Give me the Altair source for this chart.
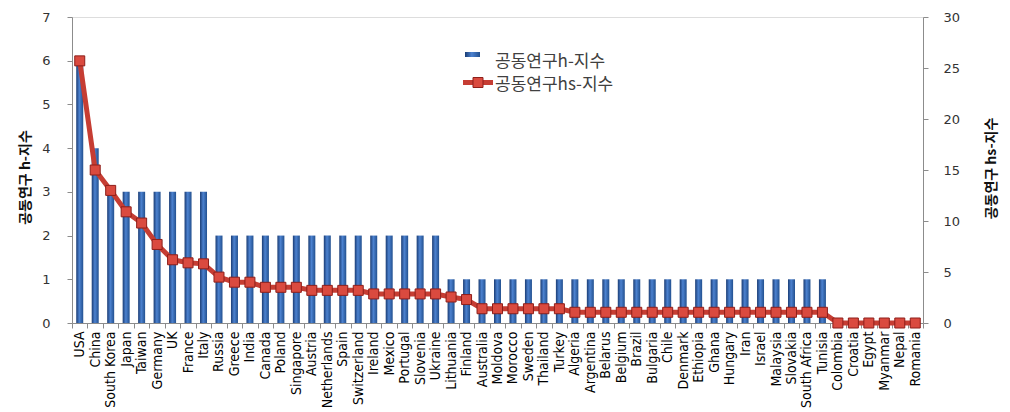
import altair as alt
import pandas as pd

countries = ["USA", "China", "South Korea", "Japan", "Taiwan", "Germany", "UK", "France", "Italy",
             "Russia", "Greece", "India", "Canada", "Poland", "Singapore", "Austria", "Netherlands",
             "Spain", "Switzerland", "Ireland", "Mexico", "Portugal", "Slovenia", "Ukraine",
             "Lithuania", "Finland", "Australia", "Moldova", "Morocco", "Sweden", "Thailand", "Turkey",
             "Algeria", "Argentina", "Belarus", "Belgium", "Brazil", "Bulgaria", "Chile", "Denmark",
             "Ethiopia", "Ghana", "Hungary", "Iran", "Israel", "Malaysia", "Slovakia", "South Africa",
             "Tunisia", "Colombia", "Croatia", "Egypt", "Myanmar", "Nepal", "Romania"]

h_index = [6, 4, 3, 3, 3, 3, 3, 3, 3,
           2, 2, 2, 2, 2, 2, 2, 2,
           2, 2, 2, 2, 2, 2, 2,
           1, 1, 1, 1, 1, 1, 1, 1,
           1, 1, 1, 1, 1, 1, 1, 1,
           1, 1, 1, 1, 1, 1, 1, 1,
           1, 0, 0, 0, 0, 0, 0]

hs_index = [25.7, 15.0, 13.0, 10.9, 9.8, 7.7, 6.2, 5.9, 5.8,
            4.5, 4.0, 4.0, 3.5, 3.5, 3.5, 3.2, 3.2,
            3.2, 3.2, 2.85, 2.85, 2.85, 2.85, 2.85,
            2.55, 2.3, 1.4, 1.4, 1.4, 1.4, 1.4, 1.4,
            1.05, 1.05, 1.05, 1.05, 1.05, 1.05, 1.05, 1.05,
            1.05, 1.05, 1.05, 1.05, 1.05, 1.05, 1.05, 1.05,
            1.05, 0, 0, 0, 0, 0, 0]

legend_labels = ["공동연구h-지수", "공동연구hs-지수"]
left_title = "공동연구 h-지수"
right_title = "공동연구 hs-지수"
left_ticks = [0, 1, 2, 3, 4, 5, 6, 7]
right_ticks = [0, 5, 10, 15, 20, 25, 30]

df = pd.DataFrame({"country": countries, "h": h_index, "hs": hs_index})

BLUE_GRAD = alt.Gradient(
    gradient="linear",
    stops=[alt.GradientStop(color="#1A3C74", offset=0),
           alt.GradientStop(color="#4C82D0", offset=0.45),
           alt.GradientStop(color="#22508F", offset=1)],
    x1=0, x2=1, y1=0, y2=0,
)
RED = "#C63D33"
AXIS_GRAY = "#8C8C8C"
KR_FONT = "Noto Sans CJK KR"
COND_FONT = "'Liberation Sans Narrow', 'DejaVu Sans Condensed', 'Roboto Condensed', sans-serif"

x_enc = alt.X(
    "country:N",
    sort=countries,
    scale=alt.Scale(domain=countries, paddingInner=0, paddingOuter=0),
    axis=alt.Axis(
        title=None, labelAngle=270, labelAlign="right", labelBaseline="middle",
        labelFont=COND_FONT, labelFontSize=14, labelColor="#000000",
        labelPadding=3, labelOverlap=False, labelLimit=0,
        tickBand="extent", tickSize=5, tickColor=AXIS_GRAY, domainColor=AXIS_GRAY,
    ),
)

bars = alt.Chart(df).mark_bar(size=7, color=BLUE_GRAD).encode(
    x=x_enc,
    y=alt.Y(
        "h:Q",
        scale=alt.Scale(domain=[0, 7], nice=False),
        axis=alt.Axis(
            orient="left", values=left_ticks, grid=False, tickSize=5,
            tickColor=AXIS_GRAY, domainColor=AXIS_GRAY,
            labelFont="DejaVu Sans", labelFontSize=13, labelColor="#333333", labelPadding=17,
            title=left_title, titleFont=KR_FONT, titleFontSize=14, titleFontWeight="bold",
            titleColor="#111111", titleAngle=270, titleAlign="center", titleBaseline="middle",
            titleX=-47, titleY=160,
        ),
    ),
)

y_right = alt.Y(
    "hs:Q",
    scale=alt.Scale(domain=[0, 30], nice=False),
    axis=alt.Axis(
        orient="right", values=right_ticks, grid=False, tickSize=5,
        tickColor=AXIS_GRAY, domainColor=AXIS_GRAY,
        labelFont="DejaVu Sans", labelFontSize=13, labelColor="#333333", labelPadding=15,
        title=right_title, titleFont=KR_FONT, titleFontSize=14, titleFontWeight="bold",
        titleColor="#111111", titleAngle=270, titleAlign="center", titleBaseline="middle",
        titleX=68, titleY=151,
    ),
)

line = alt.Chart(df).mark_line(color=RED, strokeWidth=5).encode(x=x_enc, y=y_right)
pts = alt.Chart(df).mark_point(
    shape="square", filled=True, size=100, color="#DA4A3F", stroke="#8E1F1A",
    strokeWidth=1, opacity=1,
).encode(x=x_enc, y=y_right)

hs_layer = alt.layer(line, pts)

# legend (drawn manually)
leg1 = pd.DataFrame({"label": [legend_labels[0]]})
leg2 = pd.DataFrame({"label": [legend_labels[1]]})

leg_rect = alt.Chart(leg1).mark_rect(color=BLUE_GRAD).encode(
    x=alt.value(393), x2=alt.value(408), y=alt.value(35), y2=alt.value(40))
leg_text1 = alt.Chart(leg1).mark_text(
    align="left", baseline="middle", font=KR_FONT, fontSize=17, color="#404040"
).encode(text="label:N", x=alt.value(423), y=alt.value(45))
leg_rule = alt.Chart(leg2).mark_rule(color=RED, strokeWidth=5).encode(
    x=alt.value(391), x2=alt.value(421), y=alt.value(65.5))
leg_pt = alt.Chart(leg2).mark_point(
    shape="square", filled=True, size=100, color="#DA4A3F", stroke="#8E1F1A",
    strokeWidth=1, opacity=1,
).encode(x=alt.value(406), y=alt.value(65.5))
leg_text2 = alt.Chart(leg2).mark_text(
    align="left", baseline="middle", font=KR_FONT, fontSize=17, color="#404040"
).encode(text="label:N", x=alt.value(423), y=alt.value(68))

chart = alt.layer(
    bars, hs_layer, leg_rect, leg_text1, leg_rule, leg_pt, leg_text2
).resolve_scale(y="independent").properties(
    width=851, height=306,
    autosize=alt.AutoSizeParams(type="none"),
    padding={"left": 72, "top": 17, "right": 87, "bottom": 89},
).configure_view(stroke=None).configure(background="white")

chart.save("out.html", embed_options={"renderer": "svg", "actions": False})
